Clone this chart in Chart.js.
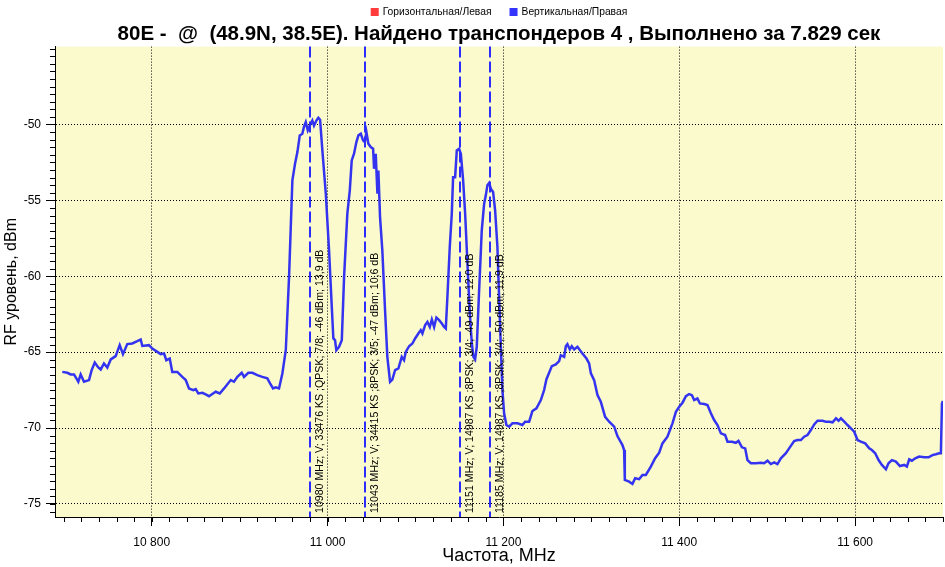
<!DOCTYPE html>
<html>
<head>
<meta charset="utf-8">
<script src="https://cdn.jsdelivr.net/npm/chart.js@4"></script>
<style>
  html, body { margin: 0; padding: 0; background: #fff; }
  #wrap { width: 945px; height: 567px; }
</style>
</head>
<body>
<div id="wrap"><canvas id="spectrumChart"></canvas></div>
<script>
// spectrum trace, V polarisation
const freqMHz = [
  10698.3,10704.0,10707.8,10711.6,10716.5,10719.2,10723.0,10728.7,10731.7,10735.2,
  10739.2,10742.0,10745.7,10749.5,10753.4,10759.0,10763.6,10767.3,10772.2,10777.9,
  10783.6,10787.5,10789.3,10796.9,10800.7,10806.4,10810.2,10814.0,10816.6,10820.5,
  10823.4,10829.1,10834.8,10838.7,10842.4,10847.3,10850.0,10853.0,10857.6,10861.4,
  10865.2,10868.9,10872.8,10877.4,10882.3,10889.9,10893.6,10897.4,10902.4,10905.0,
  10909.9,10914.5,10920.1,10925.8,10931.5,10934.6,10938.0,10941.1,10944.8,10948.6,
  10952.5,10956.2,10960.0,10963.0,10965.7,10968.4,10971.3,10973.3,10975.2,10977.5,
  10979.8,10982.7,10984.6,10987.3,10989.5,10991.5,10994.1,10998.0,11001.7,11004.8,
  11006.6,11008.5,11010.0,11013.1,11016.2,11018.8,11022.5,11025.3,11027.5,11030.1,
  11032.8,11035.1,11037.8,11040.4,11042.3,11044.2,11046.4,11049.1,11051.8,11052.9,
  11054.8,11056.7,11057.8,11059.7,11062.3,11065.4,11068.0,11071.1,11073.7,11076.8,
  11080.6,11084.4,11087.0,11089.0,11092.7,11096.5,11099.6,11103.3,11106.0,11107.9,
  11111.0,11113.6,11116.3,11118.6,11121.2,11123.8,11126.9,11130.0,11132.6,11134.5,
  11136.3,11139.0,11141.3,11142.8,11145.1,11147.0,11149.6,11151.6,11154.2,11156.5,
  11159.1,11161.8,11164.1,11165.9,11167.8,11169.7,11172.4,11175.4,11178.1,11180.0,
  11181.8,11183.8,11185.7,11188.3,11190.6,11193.2,11195.1,11197.1,11198.9,11200.8,
  11203.4,11206.5,11210.3,11216.0,11221.6,11224.7,11229.3,11233.0,11237.6,11242.6,
  11246.3,11248.9,11252.0,11255.1,11259.6,11263.4,11265.3,11269.1,11271.0,11272.8,
  11275.6,11277.8,11280.5,11284.2,11289.2,11294.5,11297.5,11299.5,11303.2,11307.0,
  11310.8,11315.7,11320.3,11326.0,11329.7,11335.4,11337.3,11338.1,11343.0,11346.8,
  11349.9,11354.4,11358.2,11362.0,11367.7,11372.6,11377.2,11380.9,11386.6,11392.3,
  11396.2,11400.0,11403.7,11407.6,11411.3,11414.4,11417.0,11420.7,11423.5,11428.4,
  11432.1,11436.0,11439.7,11443.5,11447.4,11452.2,11454.9,11459.9,11464.4,11467.4,
  11471.3,11475.0,11477.6,11481.5,11487.2,11492.9,11496.6,11500.4,11504.2,11508.0,
  11511.7,11515.6,11521.3,11525.0,11530.7,11534.5,11538.4,11542.1,11545.9,11549.7,
  11553.5,11557.3,11563.0,11566.8,11570.6,11574.4,11578.3,11581.2,11583.9,11587.7,
  11591.4,11595.3,11599.0,11602.8,11606.6,11611.5,11616.1,11619.1,11622.9,11626.7,
  11630.5,11635.1,11638.0,11641.9,11646.4,11651.0,11655.9,11658.9,11661.6,11664.6,
  11668.4,11672.9,11678.6,11683.5,11688.0,11691.9,11695.7,11697.6,11698.8,11700.0
];
const levelDbm = [
  -66.30,-66.36,-66.47,-66.47,-66.95,-66.47,-66.95,-66.84,-66.18,-65.68,
  -66.01,-66.14,-65.74,-66.01,-65.48,-65.26,-64.54,-65.13,-64.47,-64.43,
  -64.28,-64.17,-64.59,-64.54,-64.76,-64.98,-65.13,-65.09,-65.53,-65.42,
  -66.30,-66.30,-66.63,-66.84,-67.39,-67.50,-67.43,-67.72,-67.68,-67.78,
  -67.90,-67.76,-67.61,-67.72,-67.39,-66.84,-66.95,-66.63,-66.36,-66.63,
  -66.36,-66.36,-66.51,-66.63,-66.73,-67.06,-67.39,-67.32,-67.39,-66.40,
  -64.87,-60.04,-53.68,-52.59,-51.82,-50.72,-50.61,-50.13,-49.85,-50.39,
  -50.07,-49.74,-50.07,-49.74,-49.56,-49.69,-51.71,-54.56,-58.29,-62.02,
  -64.10,-64.21,-64.87,-64.65,-64.21,-60.04,-55.88,-54.34,-52.37,-51.93,
  -51.16,-50.72,-50.61,-51.05,-51.16,-50.50,-51.27,-51.49,-51.60,-52.92,
  -51.93,-54.56,-53.03,-56.10,-58.29,-62.24,-65.31,-66.95,-66.80,-66.18,
  -66.07,-65.31,-65.53,-64.98,-64.61,-64.43,-64.10,-63.77,-63.55,-63.77,
  -63.22,-63.01,-63.34,-62.85,-63.34,-62.72,-62.89,-63.11,-63.34,-63.44,
  -61.36,-58.07,-55.88,-53.47,-53.47,-51.71,-51.60,-51.93,-53.68,-55.88,
  -59.16,-62.45,-64.43,-65.31,-65.48,-64.65,-60.92,-56.97,-55.22,-54.67,
  -54.01,-53.86,-54.23,-54.45,-55.66,-58.07,-61.36,-64.65,-67.50,-69.03,
  -69.80,-69.91,-69.69,-69.69,-69.80,-69.58,-69.58,-68.88,-68.70,-68.16,
  -67.50,-66.80,-66.36,-65.92,-65.81,-65.59,-65.20,-65.31,-64.61,-64.47,
  -64.82,-64.61,-64.82,-64.65,-65.04,-65.42,-65.74,-66.40,-66.84,-67.83,
  -68.27,-69.26,-69.58,-69.91,-70.53,-71.12,-71.45,-73.42,-73.53,-73.68,
  -73.31,-73.37,-73.09,-73.09,-72.54,-71.99,-71.62,-71.01,-70.57,-69.69,
  -68.93,-68.60,-68.33,-67.90,-67.76,-67.83,-68.16,-68.05,-68.38,-68.42,
  -68.49,-69.03,-69.47,-69.80,-70.35,-70.46,-70.90,-70.90,-70.97,-70.84,
  -71.27,-71.34,-72.11,-72.32,-72.32,-72.28,-72.32,-72.15,-72.37,-72.26,
  -72.37,-71.99,-71.66,-71.34,-70.86,-70.79,-70.79,-70.57,-70.46,-70.13,
  -69.76,-69.52,-69.52,-69.58,-69.58,-69.62,-69.36,-69.52,-69.36,-69.58,
  -69.80,-70.02,-70.24,-70.79,-70.90,-71.01,-71.34,-71.45,-71.66,-72.11,
  -72.43,-72.72,-72.32,-72.11,-72.21,-72.50,-72.43,-72.54,-72.06,-72.15,
  -71.99,-71.88,-71.93,-71.93,-71.78,-71.73,-71.66,-71.66,-68.38,-68.22
];

// found transponders
const markerFreq = [10980, 11043, 11151, 11185];
const markerText = [
  '10980 MHz; V; 33476 KS ;QPSK; 7/8; -46 dBm; 13,9 dB',
  '11043 MHz; V; 34415 KS ;8PSK; 3/5; -47 dBm; 10,6 dB',
  '11151 MHz; V; 14987 KS ;8PSK; 3/4; -49 dBm; 12,0 dB',
  '11185 MHz; V; 14987 KS ;8PSK; 3/4; -50 dBm; 11,9 dB'
];

const xTicks = [10800, 11000, 11200, 11400, 11600];
const yTicks = [-75, -70, -65, -60, -55, -50];
const seriesNames = ['Горизонтальная/Левая', 'Вертикальная/Правая'];
const seriesColors = ['#ff3b3b', '#3434ff'];

const FONT = '"Liberation Sans", Arial, sans-serif';
const points = freqMHz.map((f, i) => ({ x: f, y: levelDbm[i] }));

const plotBg = {
  id: 'plotBg',
  beforeDraw(chart) {
    const { ctx, chartArea: a } = chart;
    ctx.save();
    ctx.fillStyle = '#fafacd';
    ctx.fillRect(a.left, a.top, a.right - a.left, a.bottom - a.top);
    ctx.restore();
  }
};

// compact legend above the title, centred over the plot
const topLegend = {
  id: 'topLegend',
  afterDraw(chart) {
    const { ctx, chartArea: a } = chart;
    ctx.save();
    ctx.font = '10.3px ' + FONT;
    ctx.textBaseline = 'middle';
    const widths = seriesNames.map(s => ctx.measureText(s).width);
    const total = widths.reduce((s, w) => s + w + 12, 0) + 18 * (seriesNames.length - 1);
    let x = (a.left + a.right) / 2 - total / 2;
    const y = 12;
    seriesNames.forEach((s, i) => {
      ctx.fillStyle = seriesColors[i];
      ctx.fillRect(x, y - 4, 8, 8);
      ctx.fillStyle = '#000';
      ctx.fillText(s, x + 12, y);
      x += 12 + widths[i] + 18;
    });
    ctx.restore();
  }
};

// small ticks between the labelled ones
const minorTicks = {
  id: 'minorTicks',
  afterDraw(chart) {
    const { ctx, chartArea: a, scales: { x, y } } = chart;
    ctx.save();
    ctx.strokeStyle = '#000';
    ctx.lineWidth = 1;
    ctx.beginPath();
    for (let v = 10700; v <= 11700; v += 20) {
      const px = Math.round(x.getPixelForValue(v)) + 0.5;
      ctx.moveTo(px, a.bottom);
      ctx.lineTo(px, a.bottom + 5);
    }
    for (let v = -75.5; v <= -45; v += 0.5) {
      const py = Math.round(y.getPixelForValue(v)) + 0.5;
      ctx.moveTo(a.left - 5, py);
      ctx.lineTo(a.left, py);
    }
    ctx.stroke();
    ctx.restore();
  }
};

const markers = {
  id: 'markers',
  afterDatasetsDraw(chart) {
    const { ctx, chartArea: a, scales: { x } } = chart;
    ctx.save();
    markerFreq.forEach((f, i) => {
      const px = Math.round(x.getPixelForValue(f));
      ctx.strokeStyle = '#2c2cff';
      ctx.lineWidth = 2;
      ctx.setLineDash([11, 4]);
      ctx.beginPath();
      ctx.moveTo(px, a.top);
      ctx.lineTo(px, a.bottom);
      ctx.stroke();

      ctx.save();
      ctx.translate(px + 5, a.bottom - 4);
      ctx.rotate(-Math.PI / 2);
      ctx.fillStyle = '#000';
      ctx.font = '10.6px ' + FONT;
      ctx.textAlign = 'left';
      ctx.textBaseline = 'top';
      ctx.fillText(markerText[i], 0, 0);
      ctx.restore();
    });
    ctx.restore();
  }
};

const ctx = document.getElementById('spectrumChart').getContext('2d');
new Chart(ctx, {
  type: 'line',
  data: {
    datasets: [
      {
        label: seriesNames[0],
        data: [],
        borderColor: seriesColors[0],
        backgroundColor: seriesColors[0]
      },
      {
        label: seriesNames[1],
        data: points,
        borderColor: '#3434f0',
        backgroundColor: seriesColors[1],
        borderWidth: 2.5,
        pointRadius: 0,
        tension: 0
      }
    ]
  },
  options: {
    responsive: true,
    maintainAspectRatio: false,
    animation: false,
    layout: { padding: { top: 22, right: 2 } },
    plugins: {
      legend: { display: false },
      title: {
        display: true,
        fullSize: false,
        text: '80E -  @  (48.9N, 38.5E). Найдено транспондеров 4 , Выполнено за 7.829 сек',
        color: '#000',
        font: { family: FONT, size: 20.5, weight: 'bold', lineHeight: 1.2 },
        padding: { top: 0, bottom: 0 }
      },
      tooltip: { enabled: false }
    },
    scales: {
      x: {
        type: 'linear',
        min: 10690,
        max: 11700,
        afterBuildTicks: s => { s.ticks = xTicks.map(v => ({ value: v })); },
        afterFit: s => { s.height = 50; },
        ticks: {
          color: '#000',
          font: { family: FONT, size: 12 },
          padding: 9,
          maxRotation: 0,
          callback: v => String(v).replace(/\B(?=(\d{3})+(?!\d))/g, ' ')
        },
        grid: { color: '#000', lineWidth: 1, tickLength: 9, tickColor: '#000' },
        border: { display: true, color: '#000', dash: [1, 2] },
        title: {
          display: true,
          text: 'Частота, MHz',
          color: '#000',
          font: { family: FONT, size: 18 },
          padding: { top: 0, bottom: 0 }
        }
      },
      y: {
        min: -75.86,
        max: -44.87,
        afterBuildTicks: s => { s.ticks = yTicks.map(v => ({ value: v })); },
        afterFit: s => { s.width = 55; },
        ticks: {
          color: '#000',
          font: { family: FONT, size: 12 },
          padding: 5
        },
        grid: { color: '#000', lineWidth: 1, tickLength: 9, tickColor: '#000' },
        border: { display: true, color: '#000', dash: [1, 2] },
        title: {
          display: true,
          text: 'RF уровень, dBm',
          color: '#000',
          font: { family: FONT, size: 16 },
          padding: { top: 2, bottom: 0 }
        }
      }
    }
  },
  plugins: [plotBg, topLegend, minorTicks, markers]
});
</script>
</body>
</html>
